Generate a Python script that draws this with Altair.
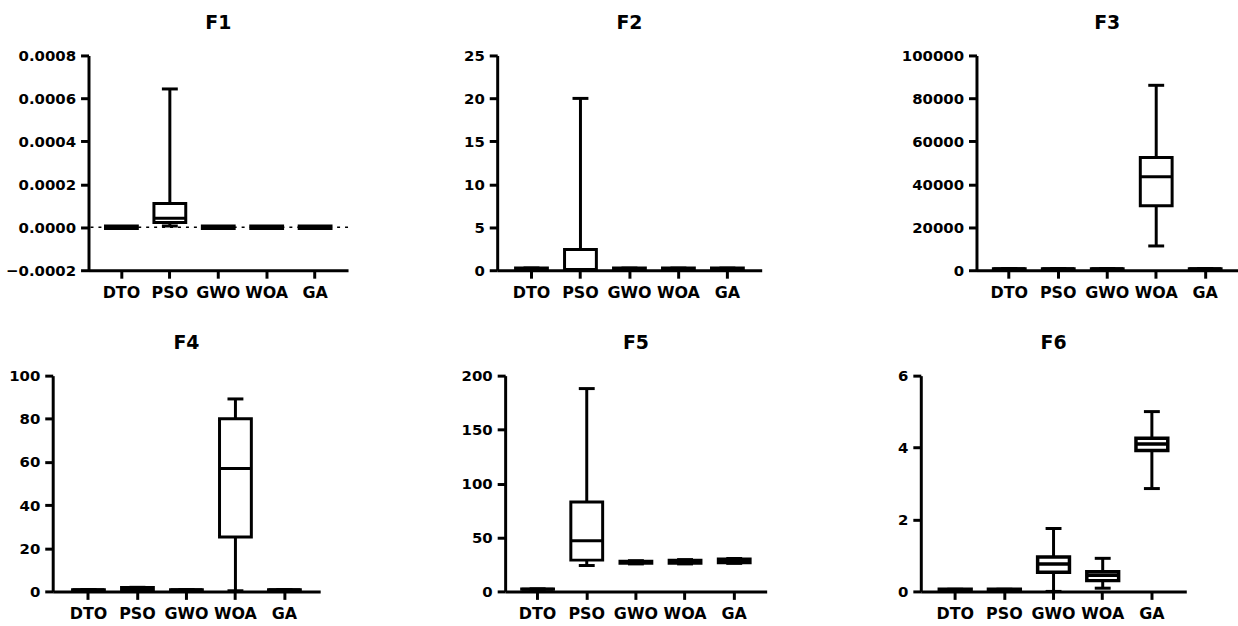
import altair as alt
import pandas as pd

# ---------------- data ----------------
algorithms = ["DTO", "PSO", "GWO", "WOA", "GA"]

# F1
f1_min = [0.0, 0.000006, 0.0, 0.0, 0.0]
f1_q1 = [-0.000006, 0.000022, -0.000006, -0.000006, -0.000006]
f1_med = [0.0, 0.000042, 0.0, 0.0, 0.0]
f1_q3 = [0.000006, 0.000111, 0.000006, 0.000006, 0.000006]
f1_max = [0.0, 0.000644, 0.0, 0.0, 0.0]
f1_zero = [0.0]

# F2
f2_min = [0.2, 0.0, 0.2, 0.2, 0.2]
f2_q1 = [0.2, 0.0, 0.2, 0.2, 0.2]
f2_med = [0.2, 0.1, 0.2, 0.2, 0.2]
f2_q3 = [0.25, 2.4, 0.25, 0.25, 0.25]
f2_max = [0.25, 20.0, 0.25, 0.25, 0.25]

# F3
f3_min = [600, 600, 600, 11300, 600]
f3_q1 = [650, 650, 650, 30000, 650]
f3_med = [700, 700, 700, 43500, 700]
f3_q3 = [750, 750, 750, 52500, 750]
f3_max = [800, 800, 800, 86100, 800]

# F4
f4_min = [0.6, 0.6, 0.6, 0.3, 0.6]
f4_q1 = [0.7, 0.7, 0.7, 25.2, 0.7]
f4_med = [0.75, 1.2, 0.75, 57.0, 0.75]
f4_q3 = [0.8, 1.8, 0.8, 80.0, 0.8]
f4_max = [0.9, 1.9, 0.9, 89.2, 0.9]

# F5
f5_min = [2.0, 24.0, 25.5, 25.5, 26.0]
f5_q1 = [2.0, 29.0, 26.0, 26.0, 26.5]
f5_med = [2.1, 47.0, 27.0, 27.5, 28.0]
f5_q3 = [2.2, 82.8, 28.0, 29.0, 30.0]
f5_max = [2.3, 188.0, 28.5, 29.5, 30.5]

# F6
f6_min = [0.04, 0.04, 0.0, 0.09, 2.86]
f6_q1 = [0.04, 0.04, 0.53, 0.30, 3.92]
f6_med = [0.05, 0.05, 0.76, 0.45, 4.10]
f6_q3 = [0.06, 0.06, 0.96, 0.55, 4.26]
f6_max = [0.06, 0.06, 1.75, 0.92, 5.00]

# y-axis tick labels
f1_ticks = [-0.0002, 0.0, 0.0002, 0.0004, 0.0006, 0.0008]
f2_ticks = [0, 5, 10, 15, 20, 25]
f3_ticks = [0, 20000, 40000, 60000, 80000, 100000]
f4_ticks = [0, 20, 40, 60, 80, 100]
f5_ticks = [0, 50, 100, 150, 200]
f6_ticks = [0, 2, 4, 6]

FONT = "DejaVu Sans"


def panel(title, lo, q1, med, q3, hi, ticks, fmt, width, height, extent, pad_outer, zero=None, sw=3):
    df = pd.DataFrame({"alg": algorithms, "lo": lo, "q1": q1, "med": med, "q3": q3, "hi": hi})
    xenc = alt.X(
        "alg:N",
        sort=algorithms,
        title=None,
        scale=alt.Scale(paddingInner=0, paddingOuter=pad_outer),
        axis=alt.Axis(labelAngle=0, labelPadding=6, labelFontSize=16, labelOverlap=False, labelLimit=200),
    )
    yscale = alt.Scale(domain=[ticks[0], ticks[-1]], nice=False, zero=False)
    yaxis = alt.Axis(values=ticks, format=fmt, minExtent=extent, labelPadding=5, labelFontSize=15)
    base = alt.Chart(df)
    whisk = base.mark_rule(color="black", strokeWidth=3).encode(
        x=xenc, y=alt.Y("lo:Q", scale=yscale, axis=yaxis, title=None), y2="hi:Q"
    )
    box = base.mark_bar(size=32, color="white", stroke="black", strokeWidth=sw).encode(
        x=xenc, y=alt.Y("q1:Q", scale=yscale, axis=yaxis, title=None), y2="q3:Q"
    )
    medl = base.mark_tick(size=32, thickness=sw, color="black", opacity=1).encode(
        x=xenc, y=alt.Y("med:Q", scale=yscale, axis=yaxis, title=None)
    )
    cap_lo = base.mark_tick(size=16, thickness=3, color="black", opacity=1).encode(
        x=xenc, y=alt.Y("lo:Q", scale=yscale, axis=yaxis, title=None)
    )
    cap_hi = base.mark_tick(size=16, thickness=3, color="black", opacity=1).encode(
        x=xenc, y=alt.Y("hi:Q", scale=yscale, axis=yaxis, title=None)
    )
    layers = []
    if zero is not None:
        zl = alt.Chart(pd.DataFrame({"z": zero})).mark_rule(
            color="black", strokeWidth=1.5, strokeDash=[3, 5]
        ).encode(y=alt.Y("z:Q", scale=yscale, axis=yaxis, title=None))
        layers.append(zl)
    layers += [whisk, box, medl, cap_lo, cap_hi]
    return alt.layer(*layers).properties(
        width=width,
        height=height,
        title=alt.TitleParams(title),
    )


def spacer():
    return (
        alt.Chart(pd.DataFrame({"s": [""]}))
        .mark_text(text="")
        .encode(x=alt.value(0), y=alt.value(0))
        .properties(width=1, height=1)
    )


p1 = panel("F1", f1_min, f1_q1, f1_med, f1_q3, f1_max, f1_ticks, ".4f", 261, 216, 88, 0.18, zero=f1_zero)
p2 = panel("F2", f2_min, f2_q1, f2_med, f2_q3, f2_max, f2_ticks, "d", 266, 216, 142, 0.2)
p3 = panel("F3", f3_min, f3_q1, f3_med, f3_q3, f3_max, f3_ticks, "d", 263, 216, 216, 0.17)
p4 = panel("F4", f4_min, f4_q1, f4_med, f4_q3, f4_max, f4_ticks, "d", 269, 217, 52, 0.23)
p5 = panel("F5", f5_min, f5_q1, f5_med, f5_q3, f5_max, f5_ticks, "d", 263, 217, 186, 0.16)
p6 = panel("F6", f6_min, f6_q1, f6_med, f6_q3, f6_max, f6_ticks, "d", 267, 217, 152, 0.2, sw=3.5)

chart = (
    alt.concat(
        spacer(), p1, p2, p3, spacer(), p4, p5, p6,
        columns=4,
        spacing={"row": 33, "column": 0},
        align={"row": "all", "column": "none"},
    )
    .properties(padding={"left": 0, "top": 12, "right": 0, "bottom": 0}, background="white")
    .configure_view(stroke=None)
    .configure_axis(
        grid=False,
        domainColor="black",
        domainWidth=3,
        tickColor="black",
        tickWidth=3,
        tickSize=8,
        labelColor="black",
        labelFont=FONT,
        labelFontWeight="bold",
    )
    .configure_title(
        font=FONT,
        fontSize=19,
        fontWeight="bold",
        color="black",
        anchor="middle",
        baseline="alphabetic",
        offset=16,
    )
)

chart.save("out.html", embed_options={"renderer": "svg", "actions": False})
